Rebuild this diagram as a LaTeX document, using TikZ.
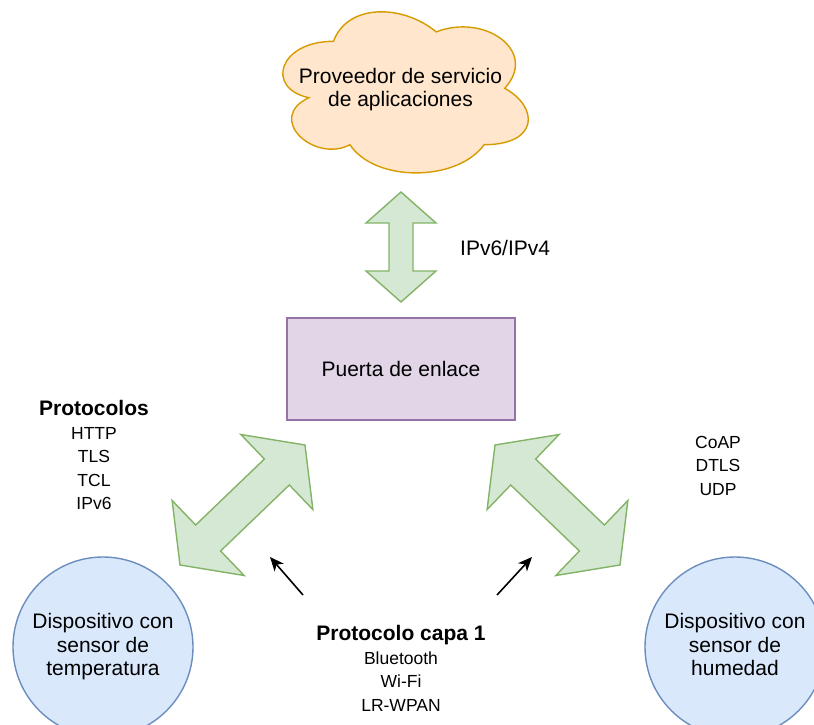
\documentclass[tikz,border=0pt]{standalone}
\usepackage{fontspec}
\setmainfont{Liberation Sans}
\usetikzlibrary{calc,arrows.meta}
\definecolor{cloudfill}{HTML}{FFE6CC}
\definecolor{cloudline}{HTML}{D79B00}
\definecolor{gfill}{HTML}{D5E8D4}
\definecolor{gline}{HTML}{82B366}
\definecolor{pfill}{HTML}{E1D5E7}
\definecolor{pline}{HTML}{9673A6}
\definecolor{bfill}{HTML}{DAE8FC}
\definecolor{bline}{HTML}{6C8EBF}
% #1 tip A, #2 tip B, #3 head length, #4 head half width, #5 shaft half width
\newcommand\fatarrow[5]{%
  \coordinate (#1-h) at ($(#1)!#3!(#2)$);
  \coordinate (#2-h) at ($(#2)!#3!(#1)$);
  \draw[fat] (#1)
    -- ($(#1-h)!#4!90:(#1)$) -- ($(#1-h)!#5!90:(#1)$)
    -- ($(#2-h)!#5!-90:(#2)$) -- ($(#2-h)!#4!-90:(#2)$)
    -- (#2)
    -- ($(#2-h)!#4!90:(#2)$) -- ($(#2-h)!#5!90:(#2)$)
    -- ($(#1-h)!#5!-90:(#1)$) -- ($(#1-h)!#4!-90:(#1)$)
    -- cycle;}
\begin{document}
\begin{tikzpicture}[x=1pt,y=-1pt,
  big/.style={font=\fontsize{21}{23.5}\selectfont},
  bigb/.style={font=\fontsize{21}{23.5}\selectfont\bfseries},
  small/.style={font=\fontsize{17.5}{23.5}\selectfont},
  txt/.style={anchor=base,inner sep=0pt},
  fat/.style={fill=gfill,draw=gline,line width=1.4pt,line join=miter},
  cloudst/.style={fill=cloudfill,draw=cloudline,line width=1.4pt},
  gwst/.style={rectangle,fill=pfill,draw=pline,line width=1.4pt,
    minimum width=228pt,minimum height=102pt,big},
  dev/.style={circle,fill=bfill,draw=bline,line width=1.4pt,
    minimum size=180pt,inner sep=0pt,align=center,big},
  pointer/.style={line width=1.6pt,-{Stealth[length=14pt,width=12pt,inset=4pt]}}]
\useasboundingbox (0,0) rectangle (814,725);

% cloud
\begin{scope}[shift={(265,-5.7)},x=274pt,y=-188pt]
\draw[cloudst] (0.25,0.25) .. controls (0.05,0.25) and (0,0.5) .. (0.16,0.55)
  .. controls (0,0.66) and (0.18,0.9) .. (0.31,0.8)
  .. controls (0.4,1) and (0.7,1) .. (0.8,0.8)
  .. controls (1,0.8) and (1,0.6) .. (0.875,0.5)
  .. controls (1,0.3) and (0.8,0.1) .. (0.625,0.2)
  .. controls (0.5,0.05) and (0.3,0.05) .. (0.25,0.25) -- cycle;
\end{scope}
\node[big,align=center] (cloud) at (400.5,89.8) {Proveedor de servicio\\de aplicaciones};

% vertical double arrow
\coordinate (vtop) at (401,192);
\coordinate (vbot) at (401,302);
\fatarrow{vtop}{vbot}{31pt}{35pt}{12pt}
\node[big,txt,anchor=base west] (ipv) at (460,255) {IPv6/IPv4};

% gateway
\node[gwst] (gw) at (401,369) {Puerta de enlace};

% diagonal double arrows
\coordinate (la1) at (305,445);
\coordinate (la2) at (180,565);
\fatarrow{la1}{la2}{39pt}{52pt}{18pt}
\coordinate (ra1) at (495,445);
\coordinate (ra2) at (620,565);
\fatarrow{ra1}{ra2}{39pt}{52pt}{18pt}

% devices
\node[dev] (temp) at (103,647) {Dispositivo con\\sensor de\\temperatura};
\node[dev] (hum) at (735,647) {Dispositivo con\\sensor de\\humedad\vphantom{p}};

% left protocol list
\node[bigb,txt] (protoT) at (94,415) {Protocolos};
\node[small,txt] (proto1) at (94,439.3) {HTTP};
\node[small,txt] (proto2) at (94,462.7) {TLS};
\node[small,txt] (proto3) at (94,486) {TCL};
\node[small,txt] (proto4) at (94,509.3) {IPv6};

% right protocol list
\node[small,txt] (coap) at (718,448.3) {CoAP};
\node[small,txt] (dtls) at (718,471.7) {DTLS};
\node[small,txt] (udp) at (718,495) {UDP};

% layer 1
\node[bigb,txt] (capaT) at (401,640) {Protocolo capa 1};
\node[small,txt] (capa1) at (401,664) {Bluetooth};
\node[small,txt] (capa2) at (401,687.7) {Wi-Fi};
\node[small,txt] (capa3) at (401,711) {LR-WPAN};

% small pointers
\coordinate (s1) at (303,595);
\coordinate (s1e) at (270,557);
\draw[pointer] (s1) -- (s1e);
\coordinate (s2) at (497,595);
\coordinate (s2e) at (532,557);
\draw[pointer] (s2) -- (s2e);
\end{tikzpicture}
\end{document}
